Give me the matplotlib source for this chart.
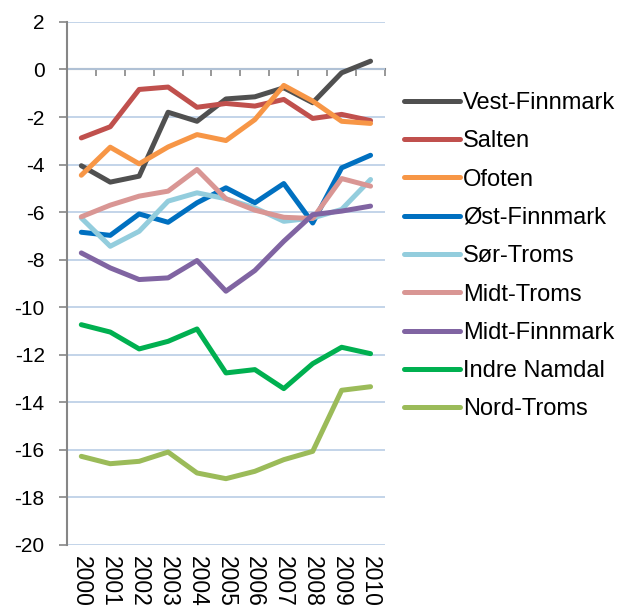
import matplotlib
matplotlib.use("Agg")
import matplotlib.pyplot as plt
import numpy as np

plt.rcParams["font.family"] = ["Liberation Sans", "DejaVu Sans"]

years = ["2000", "2001", "2002", "2003", "2004", "2005",
         "2006", "2007", "2008", "2009", "2010"]

vest_finnmark = [-4.05, -4.74, -4.49, -1.80, -2.18, -1.24, -1.15, -0.77, -1.40, -0.14, 0.35]
salten = [-2.88, -2.41, -0.84, -0.74, -1.59, -1.43, -1.54, -1.26, -2.06, -1.89, -2.15]
ofoten = [-4.45, -3.27, -3.97, -3.26, -2.74, -2.99, -2.11, -0.67, -1.33, -2.18, -2.27]
ost_finnmark = [-6.85, -6.98, -6.08, -6.43, -5.61, -4.98, -5.61, -4.80, -6.46, -4.14, -3.61]
sor_troms = [-6.25, -7.44, -6.81, -5.54, -5.19, -5.44, -5.82, -6.39, -6.25, -5.89, -4.63]
midt_troms = [-6.20, -5.71, -5.33, -5.12, -4.21, -5.44, -5.92, -6.22, -6.27, -4.59, -4.91]
midt_finnmark = [-7.72, -8.35, -8.84, -8.77, -8.04, -9.33, -8.46, -7.23, -6.11, -5.96, -5.75]
indre_namdal = [-10.74, -11.05, -11.76, -11.44, -10.92, -12.77, -12.63, -13.43, -12.38, -11.69, -11.96]
nord_troms = [-16.28, -16.59, -16.49, -16.10, -16.98, -17.22, -16.91, -16.42, -16.07, -13.50, -13.35]

series = [
    ("Vest-Finnmark", vest_finnmark, "#505050"),
    ("Salten", salten, "#c0504d"),
    ("Ofoten", ofoten, "#f79646"),
    ("Øst-Finnmark", ost_finnmark, "#0070c0"),
    ("Sør-Troms", sor_troms, "#93cddd"),
    ("Midt-Troms", midt_troms, "#d99694"),
    ("Midt-Finnmark", midt_finnmark, "#8064a2"),
    ("Indre Namdal", indre_namdal, "#00b050"),
    ("Nord-Troms", nord_troms, "#9bbb59"),
]

axis_gray = "#868686"
grid_blue = "#b9cde5"

fig = plt.figure(figsize=(6.19, 6.10), dpi=100)
ax = fig.add_axes([0.108, 0.107, 0.514, 0.857])

x = np.arange(len(years))
for name, values, color in series:
    ax.plot(x, values, color=color, lw=3.6, label=name, solid_capstyle="round")

ax.set_xlim(-0.5, len(years) - 0.5)
ax.set_ylim(-20, 2)
ax.set_yticks(np.arange(-20, 3, 2))
ax.set_yticklabels([str(v) for v in range(-20, 3, 2)])
ax.yaxis.grid(True, color=grid_blue, lw=1.2)
ax.set_axisbelow(True)

for side in ("top", "right", "bottom"):
    ax.spines[side].set_visible(False)
ax.spines["left"].set_color(axis_gray)
ax.spines["left"].set_linewidth(1.5)

ax.tick_params(axis="y", length=6, width=1.2, color=axis_gray, pad=10,
               labelsize=15)
ax.set_xticks(x)
ax.set_xticklabels(years, rotation=270, fontsize=16.5)
ax.tick_params(axis="x", length=0, pad=8)

# horizontal axis crossing at zero with tick marks between categories
sec = ax.secondary_xaxis(0, transform=ax.transData)
sec.spines["bottom"].set_color(axis_gray)
sec.spines["bottom"].set_linewidth(1.5)
sec.set_xticks(np.arange(-0.5, len(years), 1.0))
sec.set_xticklabels([])
sec.tick_params(axis="x", length=5, width=1.2, color=axis_gray)

fig.legend(loc="upper left", bbox_to_anchor=(0.652, 0.849), frameon=False,
           fontsize=17, handlelength=2.4, handletextpad=0.12,
           labelspacing=0.69, borderpad=0, borderaxespad=0)

fig.savefig("out.png", dpi=100)
